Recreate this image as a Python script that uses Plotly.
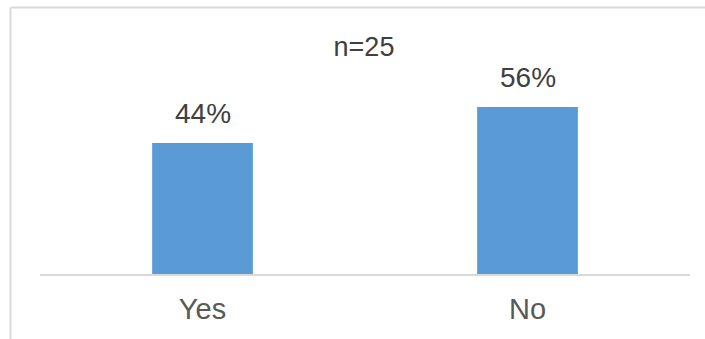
import plotly.graph_objects as go

categories = ["Yes", "No"]
shares = [44, 56]
sample_label = "n=25"

W, H = 705, 339
ml, mr, mt, mb = 40, 15, 20, 65
plot_w = W - ml - mr
plot_h = H - mt - mb
FONT = "Liberation Sans, Arial"

fig = go.Figure(
    go.Bar(
        x=categories,
        y=shares,
        width=0.31,
        marker=dict(color="#5B9BD5", line=dict(width=0)),
        hoverinfo="x+y",
    )
)

# value labels sitting above each bar
for cat, v in zip(categories, shares):
    fig.add_annotation(
        x=cat, y=v, xref="x", yref="y",
        text=f"{v}%", showarrow=False,
        yanchor="bottom", yshift=12,
        font=dict(family=FONT, size=28, color="#404040"),
    )

# chart-area frame: top and left edges
def px_x(p):
    return (p - ml) / plot_w

def px_y(p):
    return (H - mb - p) / plot_h

frame = dict(color="#D9D9D9", width=2)
shapes = [
    dict(type="line", xref="paper", yref="paper",
         x0=px_x(10.5), x1=px_x(720), y0=px_y(7.5), y1=px_y(7.5), line=frame),
    dict(type="line", xref="paper", yref="paper",
         x0=px_x(10.5), x1=px_x(10.5), y0=px_y(7.5), y1=px_y(350), line=frame),
]

fig.update_layout(
    width=W,
    height=H,
    margin=dict(l=ml, r=mr, t=mt, b=mb),
    paper_bgcolor="white",
    plot_bgcolor="white",
    showlegend=False,
    shapes=shapes,
    title=dict(
        text=sample_label,
        x=(364 / W), xanchor="center",
        y=1 - 47 / H, yanchor="middle", yref="container",
        font=dict(family=FONT, size=27, color="#404040"),
    ),
    xaxis=dict(
        showline=True, linecolor="#D9D9D9", linewidth=2,
        ticks="", showgrid=False,
        tickfont=dict(family=FONT, size=29, color="#595959"),
        ticklabelstandoff=8,
    ),
    yaxis=dict(
        range=[0, plot_h / 2.98],
        visible=False, showgrid=False, zeroline=False,
    ),
)

fig.write_html("out.html")
